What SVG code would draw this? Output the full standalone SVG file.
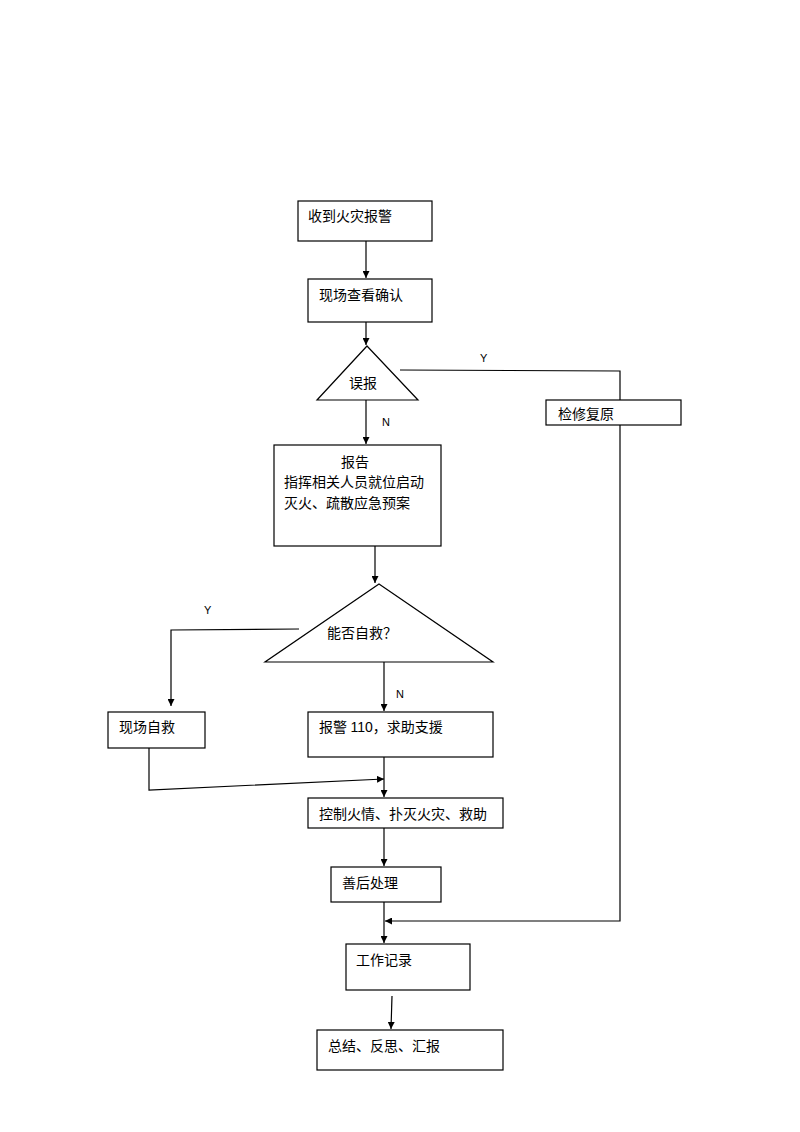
<svg xmlns="http://www.w3.org/2000/svg" width="800" height="1132" viewBox="0 0 800 1132">
<style>
.box{fill:#fff;stroke:#000;stroke-width:1.2}
.t{font-family:"Liberation Serif","Noto Sans CJK SC",serif;font-size:14px;fill:#000}
.s{font-family:"Liberation Sans",Arial,sans-serif}
.l{font-family:"Liberation Sans",Arial,sans-serif;font-size:11px;fill:#000}
.c{fill:none;stroke:#000;stroke-width:1.2}
</style>
<defs>
<marker id="ah" viewBox="0 0 10 10" refX="10" refY="5" markerWidth="7" markerHeight="7" markerUnits="userSpaceOnUse" orient="auto">
<path d="M0,0 L10,5 L0,10 Z" fill="#000"/>
</marker>
</defs>
<rect width="800" height="1132" fill="#fff"/>
<g id="connectors">
<path class="c" d="M366,241 V278" marker-end="url(#ah)"/>
<path class="c" d="M366,322 V345" marker-end="url(#ah)"/>
<path class="c" d="M400,370 L620,371 V400"/>
<path class="c" d="M620,425 V921 H385" marker-end="url(#ah)"/>
<path class="c" d="M366,400 V444" marker-end="url(#ah)"/>
<path class="c" d="M375,546 V583" marker-end="url(#ah)"/>
<path class="c" d="M299,629 L171,630 V706" marker-end="url(#ah)"/>
<path class="c" d="M384,662 V711" marker-end="url(#ah)"/>
<path class="c" d="M149,748 V790 L384,779" marker-end="url(#ah)"/>
<path class="c" d="M384,757 V797" marker-end="url(#ah)"/>
<path class="c" d="M384,828 V866" marker-end="url(#ah)"/>
<path class="c" d="M384,902 V943" marker-end="url(#ah)"/>
<path class="c" d="M392,996 L391,1029" marker-end="url(#ah)"/>
<text class="l" x="480" y="362">Y</text>
<text class="l" x="382" y="426">N</text>
<text class="l" x="204" y="614">Y</text>
<text class="l" x="396" y="698">N</text>
</g>
<g id="n1"><rect class="box" x="298" y="201" width="134" height="40"/><text class="t" x="308" y="221">收到火灾报警</text></g>
<g id="n2"><rect class="box" x="308" y="279" width="124" height="43"/><text class="t" x="319" y="300">现场查看确认</text></g>
<g id="n3"><path class="box" d="M367,346 L418,400 L317,400 Z"/><text class="t" x="349" y="388">误报</text></g>
<g id="n4"><rect class="box" x="546" y="400" width="135" height="25"/><text class="t" x="558" y="419">检修复原</text></g>
<g id="n5"><rect class="box" x="274" y="445" width="167" height="101"/><text class="t" x="341" y="467">报告</text><text class="t" x="284" y="487">指挥相关人员就位启动</text><text class="t" x="284" y="508">灭火、疏散应急预案</text></g>
<g id="n6"><path class="box" d="M379,584 L493,662 L265,662 Z"/><text class="t" x="327" y="638">能否自救？</text></g>
<g id="n7"><rect class="box" x="108" y="712" width="97" height="36"/><text class="t" x="119" y="732">现场自救</text></g>
<g id="n8"><rect class="box" x="308" y="712" width="185" height="45"/><text class="t" x="319" y="732">报警 <tspan class="s">110</tspan>，求助支援</text></g>
<g id="n9"><rect class="box" x="308" y="798" width="195" height="30"/><text class="t" x="319" y="819">控制火情、扑灭火灾、救助</text></g>
<g id="n10"><rect class="box" x="331" y="867" width="110" height="35"/><text class="t" x="342" y="888">善后处理</text></g>
<g id="n11"><rect class="box" x="346" y="944" width="124" height="46"/><text class="t" x="356" y="965">工作记录</text></g>
<g id="n12"><rect class="box" x="317" y="1030" width="186" height="40"/><text class="t" x="328" y="1051">总结、反思、汇报</text></g>
</svg>
